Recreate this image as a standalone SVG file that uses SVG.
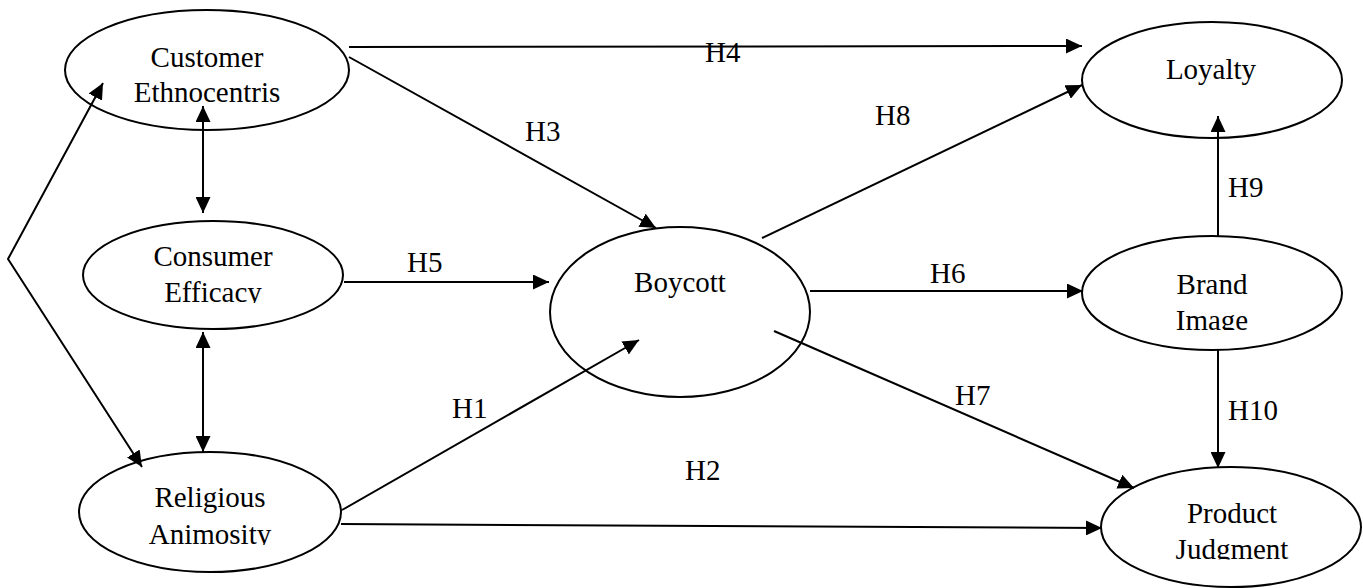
<svg xmlns="http://www.w3.org/2000/svg" width="1363" height="588" viewBox="0 0 1363 588">
<style>
.node ellipse{fill:#fff;stroke:#000;stroke-width:2}
text{font-family:"Liberation Serif","Times New Roman",serif;font-size:29px;fill:#000}
.nt{text-anchor:middle}
#connectors line,#connectors polyline{stroke:#000;stroke-width:2;fill:none}
</style>
<defs>
<marker id="ah" markerUnits="userSpaceOnUse" markerWidth="18" markerHeight="15" refX="16" refY="7.5" orient="auto-start-reverse">
<path d="M0,0 L16,7.5 L0,15 z" fill="#000"/>
</marker>
<clipPath id="c-eff"><rect x="0" y="0" width="1363" height="303"/></clipPath>
<clipPath id="c-ani"><rect x="0" y="0" width="1363" height="545"/></clipPath>
<clipPath id="c-jud"><rect x="0" y="0" width="1363" height="559.5"/></clipPath>
<clipPath id="c-img"><rect x="0" y="0" width="1363" height="330"/></clipPath>
</defs>
<g id="n-ethno" class="node">
<ellipse cx="207" cy="70" rx="142" ry="60"/>
<text class="nt" x="207" y="67">Customer</text>
<text class="nt" x="207" y="102">Ethnocentris</text>
</g>
<g id="n-efficacy" class="node">
<ellipse cx="213" cy="275" rx="130" ry="54"/>
<text class="nt" x="213" y="266">Consumer</text>
<text class="nt" x="213" y="302" clip-path="url(#c-eff)">Efficacy</text>
</g>
<g id="n-animosity" class="node">
<ellipse cx="210" cy="512" rx="131" ry="60"/>
<text class="nt" x="210" y="507">Religious</text>
<text class="nt" x="210" y="544" clip-path="url(#c-ani)">Animosity</text>
</g>
<g id="n-boycott" class="node">
<ellipse cx="680" cy="312" rx="130" ry="85"/>
<text class="nt" x="680" y="292">Boycott</text>
</g>
<g id="n-loyalty" class="node">
<ellipse cx="1212" cy="80" rx="130" ry="58"/>
<text class="nt" x="1211" y="79">Loyalty</text>
</g>
<g id="n-brand" class="node">
<ellipse cx="1212" cy="293" rx="130" ry="57"/>
<text class="nt" x="1212" y="294">Brand</text>
<text class="nt" x="1212" y="330" clip-path="url(#c-img)">Image</text>
</g>
<g id="n-product" class="node">
<ellipse cx="1231" cy="527" rx="130" ry="60"/>
<text class="nt" x="1232" y="523">Product</text>
<text class="nt" x="1232" y="559" clip-path="url(#c-jud)">Judgment</text>
</g>
<g id="connectors">
<line x1="349" y1="47" x2="1082" y2="46" marker-end="url(#ah)"/>
<line x1="349" y1="57" x2="656" y2="228" marker-end="url(#ah)"/>
<line x1="762" y1="238" x2="1082" y2="85" marker-end="url(#ah)"/>
<line x1="1218" y1="237" x2="1218" y2="116" marker-end="url(#ah)"/>
<line x1="810" y1="291" x2="1083" y2="291" marker-end="url(#ah)"/>
<line x1="774" y1="331" x2="1134" y2="488" marker-end="url(#ah)"/>
<line x1="1218" y1="350" x2="1218" y2="468" marker-end="url(#ah)"/>
<line x1="344" y1="282" x2="549" y2="282" marker-end="url(#ah)"/>
<line x1="342" y1="510" x2="639" y2="340" marker-end="url(#ah)"/>
<line x1="341" y1="524" x2="1102" y2="528" marker-end="url(#ah)"/>
<line x1="203" y1="106" x2="203" y2="213" marker-start="url(#ah)" marker-end="url(#ah)"/>
<line x1="203" y1="332" x2="203" y2="452" marker-start="url(#ah)" marker-end="url(#ah)"/>
<polyline points="103,83 8,259 142,467" marker-start="url(#ah)" marker-end="url(#ah)"/>
<text x="705" y="62">H4</text>
<text x="525" y="141">H3</text>
<text x="875" y="125">H8</text>
<text x="1228" y="197">H9</text>
<text x="930" y="283">H6</text>
<text x="955" y="405">H7</text>
<text x="1228" y="420">H10</text>
<text x="407" y="272">H5</text>
<text x="452" y="418">H1</text>
<text x="685" y="480">H2</text>
</g>
</svg>
